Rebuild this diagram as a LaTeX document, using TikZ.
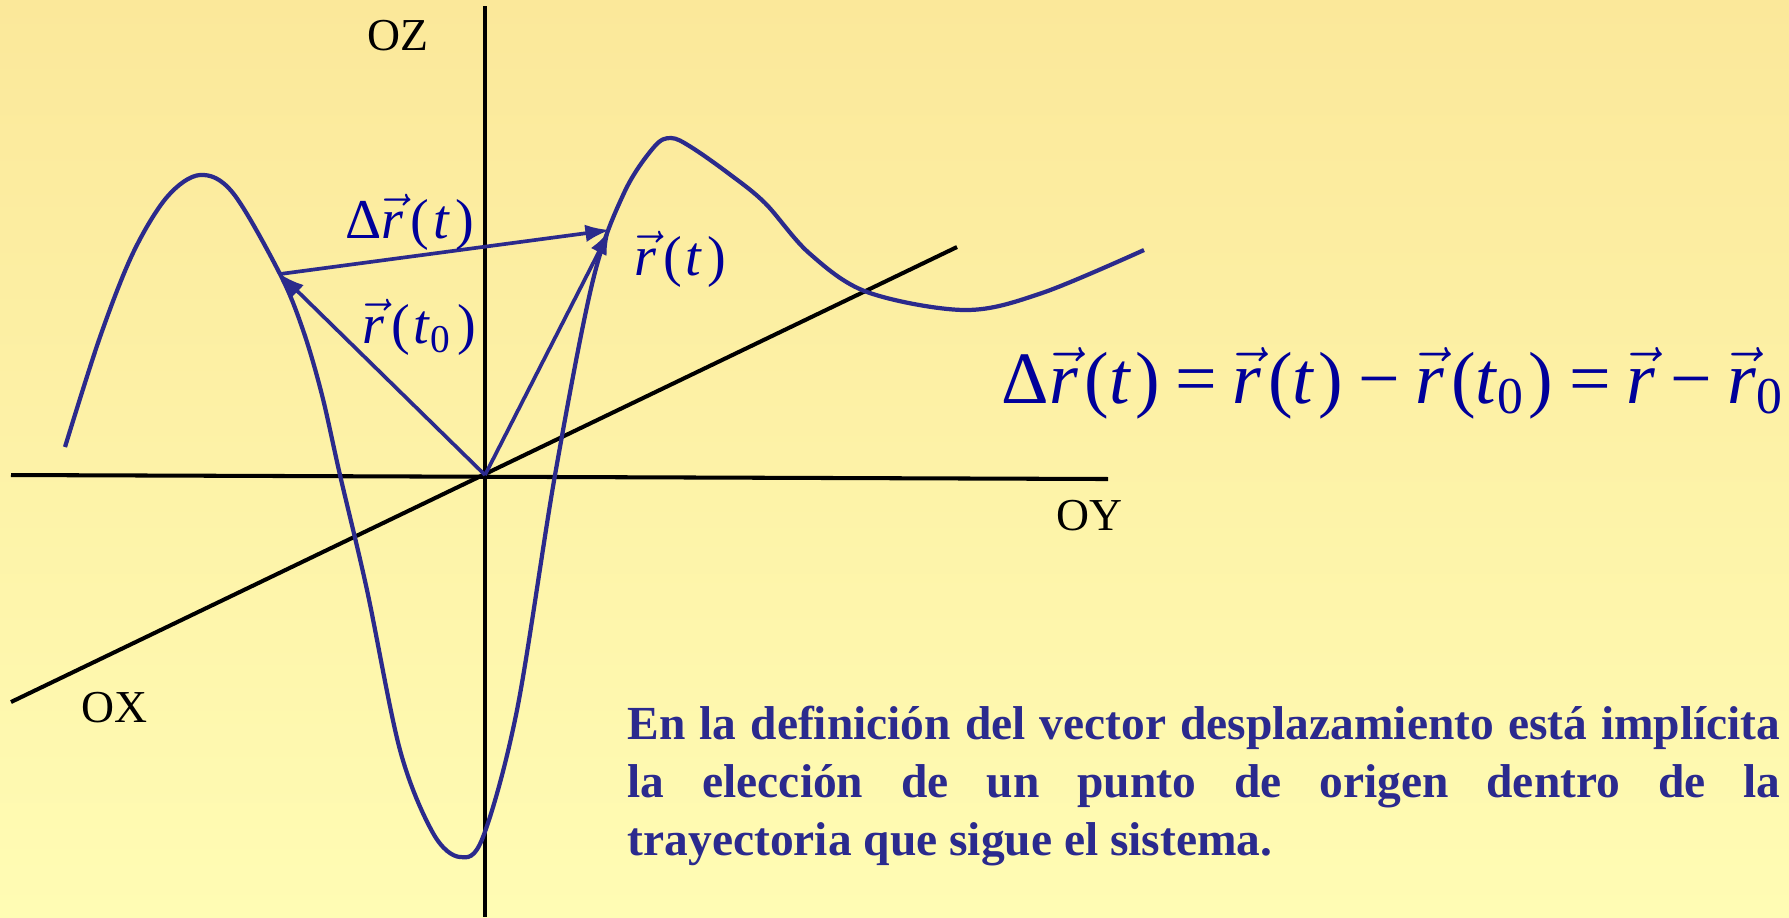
\documentclass[tikz,border=0pt]{standalone}
\usepackage{fontspec}
\setmainfont{Liberation Serif}
\usetikzlibrary{arrows.meta}
\definecolor{bgtop}{HTML}{FBE89A}
\definecolor{bgbot}{HTML}{FFFCB4}
\definecolor{trajc}{HTML}{2B2A8C}
\definecolor{mathc}{HTML}{00009A}
\definecolor{notec}{HTML}{2B2A8E}
\tikzset{
  >={Latex[length=7pt,width=5pt]},
  every picture/.style={line join=round},
  axis/.style={draw=black, line width=1.15pt},
  curve/.style={draw=trajc, line width=1.2pt},
  vecarr/.style={->, draw=trajc, line width=1.05pt},
  axlbl/.style={font=\fontsize{13}{15}\selectfont, text=black, inner sep=0pt},
  veclbl/.style={font=\fontsize{16}{19}\selectfont, text=mathc, anchor=base west, inner sep=0pt},
  eqlbl/.style={font=\fontsize{21}{25}\selectfont, text=mathc, anchor=base west, inner sep=0pt},
  note/.style={font=\bfseries\fontsize{13.5}{16.4}\selectfont, text=notec, anchor=base west,
    inner sep=0pt, align=left},
}
\newcommand{\vecr}{\ensuremath{\vec{\mbox{\itshape r}}}}
\newcommand{\eqop}[1]{\hspace{0.21em}#1\hspace{0.21em}}

\begin{document}
\begin{tikzpicture}[x=0.01cm, y=-0.01cm]
  % ===================== background =====================
  \shade[top color=bgtop, bottom color=bgbot] (0,0) rectangle (1789,917);
  \useasboundingbox (0,0) rectangle (1789,917);

  % ===================== axes =====================
  \coordinate (zt) at (485,6);   \coordinate (zb) at (485,917);
  \coordinate (yl) at (11,475);  \coordinate (yr) at (1108,479);
  \coordinate (xl) at (11,702);  \coordinate (xr) at (957,247);
  \draw[axis, line width=0.95pt] (zt) -- (zb);
  \draw[axis] (yl) -- (yr);
  \draw[axis] (xl) -- (xr);
  \node[axlbl] (oz) at (398,36) {OZ};
  \node[axlbl] (oy) at (1089,516) {OY};
  \node[axlbl] (ox) at (115,708) {OX};

  % ===================== trajectory =====================
  \draw[curve] plot[smooth, tension=0.55] coordinates {
    (65,447) (100,337) (133,253) (167,197) (200,175) (233,193) (280,274)
    (303,330) (322,395) (340,475) (367,590) (400,750) (433,833) (460,857) (483,837)
    (517,710) (555,475) (593,280) (624,193) (654,147) (671,138) (691,147)
    (728,173) (765,203) (809,253) (867,292) (965,310) (1042,293) (1144,250)};

  % ===================== vectors =====================
  \coordinate (O) at (485,475);
  \coordinate (P0) at (280,274);
  \coordinate (P1) at (610,230);
  \draw[vecarr] (O) -- (P0);
  \draw[vecarr] (O) -- (P1);
  \draw[vecarr] (P0) -- (P1);
  \node[veclbl] (dr) at (345,238) {Δ\vecr\kern2pt(\kern1pt\textit{t}\kern1.5pt)};
  \node[veclbl] (r0) at (362,343) {\vecr\kern2pt(\kern1pt\textit{t}\textsubscript{0}\kern1.5pt)};
  \node[veclbl] (rt) at (634,275) {\vecr\kern2pt(\kern1pt\textit{t}\kern1.5pt)};

  % ===================== relation and note =====================
  \node[eqlbl] (eq) at (1001,403) {Δ\vecr\kern2pt(\textit{t}\kern1pt)\eqop{=}\vecr\kern2pt(\textit{t}\kern1pt)\eqop{−}\vecr\kern2pt(\textit{t}\textsubscript{0}\kern1pt)\eqop{=}\vecr\eqop{−}\vecr\textsubscript{0}};
  \node[note] (txt) at (627,855) {\makebox[11.52cm][s]{En la definición del vector desplazamiento está implícita}\\
    \makebox[11.52cm][s]{la elección de un punto de origen dentro de la}\\
    trayectoria que sigue el sistema.};
\end{tikzpicture}
\end{document}
